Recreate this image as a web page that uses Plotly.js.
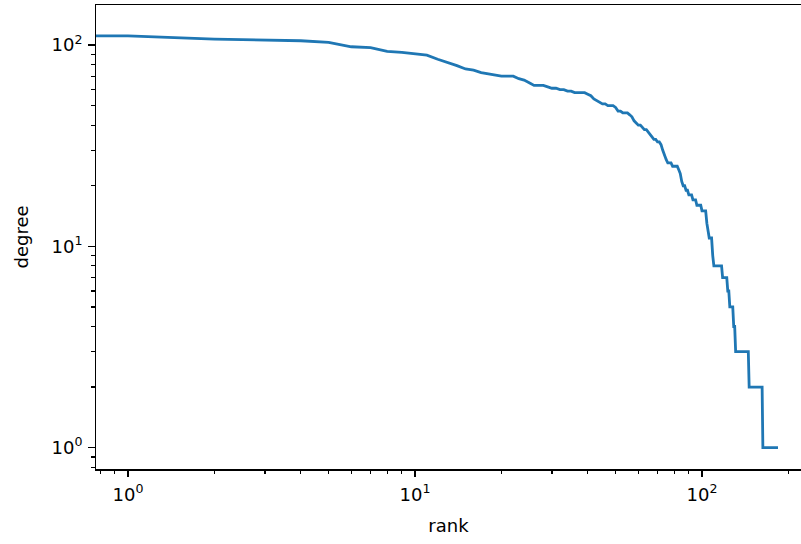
<!DOCTYPE html>
<html>
<head>
<meta charset="utf-8">
<script src="https://cdn.plot.ly/plotly-3.0.1.min.js"></script>
<style>html,body{margin:0;padding:0;background:#fff;}#chart{width:801px;height:544px;}</style>
</head>
<body>
<div id="chart"></div>
<script>
// degree sequence sorted descending (rank 0 .. n-1)
const degrees = [
  111,111,107,106,105,103,98,97,93,92,90,89,85,82,79,76,75,73,72,71,70,70,70,
  68,67,65,63,63,63,62,61,61,60,60,59,59,58,58,58,58,57,
  56,54,53,52,51,51,50,50,50,49,47,47,46,46,46,45,44,42,41,40,
  40,39,38,38,37,36,35,34,34,33,33,32,30,28,27,26,26,26,25,25,
  25,25,24,23,21,20,20,19,19,18,18,18,17,17,17,16,16,16,16,15,
  15,15,15,13,12,11,11,11,9,8,8,8,8,8,8,8,8,7,7,7,
  7,7,6,6,5,5,5,5,4,4,3,3,3,3,3,3,3,3,3,3,
  3,3,3,3,3,2,2,2,2,2,2,2,2,2,2,2,2,2,2,2,
  2,2,1,1,1,1,1,1,1,1,1,1,1,1,1,1,1,1,1,1,1,1,1,1
];
const ranks = degrees.map((d, i) => i);
const majorTicks = [1, 10, 100];
const majorLabels = ['10<sup>0</sup>', '10<sup>1</sup>', '10<sup>2</sup>'];
const xMinor = [0.8,0.9,2,3,4,5,6,7,8,9,20,30,40,50,60,70,80,90,200];
const yMinor = [0.8,0.9,2,3,4,5,6,7,8,9,20,30,40,50,60,70,80,90];

// like matplotlib, non-positive x on a log axis is clipped to a tiny positive value
const xPlot = ranks.map(r => r > 0 ? r : 1e-3);

const font = {family: 'DejaVu Sans', size: 18, color: '#000'};
const axisCommon = {
  type: 'log',
  tickvals: majorTicks,
  ticktext: majorLabels,
  ticks: 'outside',
  ticklen: 6.5,
  tickwidth: 1.5,
  tickcolor: '#000',
  showline: true,
  linewidth: 1.5,
  linecolor: '#000',
  mirror: true,
  showgrid: false,
  zeroline: false,
  tickfont: font,
  automargin: false
};

const layout = {
  width: 801,
  height: 544,
  margin: {l: 96, r: 0, t: 5, b: 75},
  paper_bgcolor: '#fff',
  plot_bgcolor: '#fff',
  showlegend: false,
  xaxis: Object.assign({}, axisCommon, {
    range: [-0.1115, 2.345],
    ticklabelstandoff: 2,
    minor: {tickvals: xMinor, ticks: 'outside', ticklen: 3.7, tickwidth: 1.2, tickcolor: '#000', showgrid: false},
    title: {text: 'rank', font: font, standoff: 16}
  }),
  yaxis: Object.assign({}, axisCommon, {
    range: [-0.1058, 2.1987],
    ticklabelstandoff: 2,
    minor: {tickvals: yMinor, ticks: 'outside', ticklen: 3.7, tickwidth: 1.2, tickcolor: '#000', showgrid: false},
    title: {text: 'degree', font: font, standoff: 18}
  })
};

Plotly.newPlot('chart', [{
  x: xPlot,
  y: degrees,
  type: 'scatter',
  mode: 'lines',
  line: {color: '#1f77b4', width: 2.8},
  hoverinfo: 'skip'
}], layout, {staticPlot: true, displayModeBar: false});
</script>
</body>
</html>
